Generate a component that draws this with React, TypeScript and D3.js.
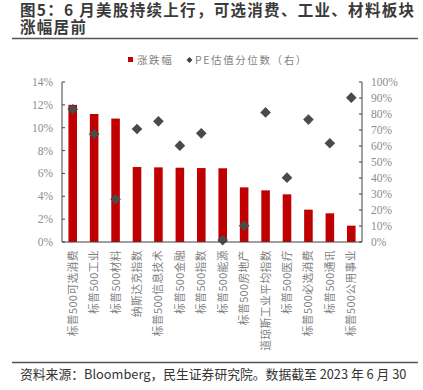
import React from 'react';
import * as d3 from 'd3';

const categories = [
  '标普500可选消费', '标普500工业', '标普500材料', '纳斯达克指数', '标普500信息技术',
  '标普500金融', '标普500指数', '标普500能源', '标普500房地产', '道琼斯工业平均指数',
  '标普500医疗', '标普500必选消费', '标普500通讯', '标普500公用事业',
];
const changePct = [12.0, 11.2, 10.8, 6.56, 6.53, 6.5, 6.47, 6.45, 4.78, 4.52, 4.17, 2.83, 2.51, 1.43];
const pePct = [83, 67.5, 26.7, 70.6, 75.4, 60.2, 67.9, 1.2, 10.2, 81, 40.2, 76.5, 61.7, 90.2];
const leftTicks = [0, 2, 4, 6, 8, 10, 12, 14];
const rightTicks = [0, 10, 20, 30, 40, 50, 60, 70, 80, 90, 100];

const W = 423;
const H = 390;
const plot = { left: 62, right: 362, top: 82, bottom: 242 };

const cjk = '"Noto Sans CJK SC", "Noto Sans", sans-serif';
const serif = '"Liberation Serif", "DejaVu Serif", serif';

const App: React.FC = () => {
  const x = d3.scaleBand<string>()
    .domain(categories)
    .range([plot.left, plot.right])
    .paddingInner(0.6)
    .paddingOuter(0.3);
  const yL = d3.scaleLinear().domain([0, 14]).range([plot.bottom, plot.top]);
  const yR = d3.scaleLinear().domain([0, 100]).range([plot.bottom, plot.top]);
  const diamond = d3.symbol().type(d3.symbolDiamond2).size(72)() || '';
  const axisColor = '#404040';
  const tickText = '#8c8c8c';

  return (
    <div style={{ position: 'absolute', left: 0, top: 0 }}>
      <svg width={W} height={H} style={{ display: 'block', background: '#fff' }}>
        {/* title */}
        <text fontFamily={cjk} fontWeight="bold" fontSize={15.5} fill="#3a3a3a" letterSpacing={1.3}>
          <tspan x={20} y={16}>图5：6 月美股持续上行，可选消费、工业、材料板块</tspan>
          <tspan x={20} y={33}>涨幅居前</tspan>
        </text>
        <line x1={12} x2={418} y1={38.5} y2={38.5} stroke="#555" strokeWidth={1.5} />

        {/* legend */}
        <rect x={128} y={57} width={5} height={5} fill="#c00000" />
        <text x={137} y={63.5} fontFamily={cjk} fontSize={10.5} fill="#7f7f7f" letterSpacing={1.6}>涨跌幅</text>
        <path d={diamond} transform="translate(189.5,60) scale(0.55)" fill="#404040" />
        <text x={195} y={63.5} fontFamily={cjk} fontSize={10.5} fill="#7f7f7f" letterSpacing={1.6}>PE估值分位数（右）</text>

        {/* bars */}
        {categories.map((c, i) => (
          <rect key={c} x={x(c)} y={yL(changePct[i])} width={x.bandwidth()}
            height={plot.bottom - yL(changePct[i])} fill="#c00000" />
        ))}

        {/* diamonds */}
        {categories.map((c, i) => (
          <path key={'d' + c} d={diamond}
            transform={`translate(${(x(c) || 0) + x.bandwidth() / 2},${yR(pePct[i])})`}
            fill="#4a4a4a" />
        ))}

        {/* axes */}
        <line x1={plot.left} x2={plot.left} y1={plot.top} y2={plot.bottom} stroke={axisColor} />
        <line x1={plot.right} x2={plot.right} y1={plot.top} y2={plot.bottom} stroke={axisColor} />
        <line x1={plot.left} x2={plot.right} y1={plot.bottom} y2={plot.bottom} stroke={axisColor} />
        {leftTicks.map(t => (
          <g key={'l' + t}>
            <line x1={plot.left} x2={plot.left + 3} y1={yL(t)} y2={yL(t)} stroke={axisColor} />
            <text x={53} y={yL(t) + 4} textAnchor="end" fontFamily={serif} fontSize={11.5} fill={tickText}>{t}%</text>
          </g>
        ))}
        {rightTicks.map(t => (
          <g key={'r' + t}>
            <line x1={plot.right - 3} x2={plot.right} y1={yR(t)} y2={yR(t)} stroke={axisColor} />
            <text x={371} y={yR(t) + 4} fontFamily={serif} fontSize={11.5} fill={tickText}>{t}%</text>
          </g>
        ))}

        {/* category labels */}
        {categories.map(c => {
          const cx = (x(c) || 0) + x.bandwidth() / 2 + 4;
          return (
            <text key={'t' + c} transform={`translate(${cx},250) rotate(-90)`} textAnchor="end"
              fontFamily={cjk} fontSize={10.8} fill="#7f7f7f" letterSpacing={0.4}>{c}</text>
          );
        })}

        {/* footer */}
        <line x1={12} x2={418} y1={362.5} y2={362.5} stroke="#555" strokeWidth={1.5} />
        <text x={20} y={379} fontFamily={cjk} fontSize={12.8} fill="#333">资料来源：Bloomberg，民生证券研究院。数据截至 2023 年 6 月 30</text>
      </svg>
    </div>
  );
};

export default App;
